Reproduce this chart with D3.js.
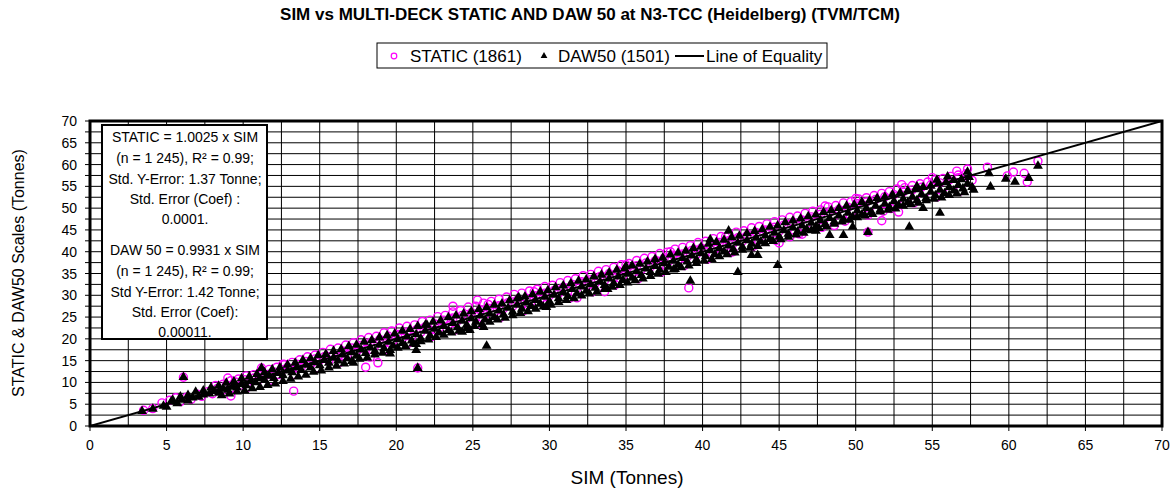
<!DOCTYPE html>
<html>
<head>
<meta charset="utf-8">
<script src="https://cdn.jsdelivr.net/npm/d3@7"></script>
<style>
  body { margin: 0; background: #fff; }
  text { font-family: Arial, "Liberation Sans", sans-serif; }
</style>
</head>
<body>
<svg id="chart" width="1176" height="495"></svg>
<script>
// axis ticks
var xTicks = [0, 5, 10, 15, 20, 25, 30, 35, 40, 45, 50, 55, 60, 65, 70];
var yTicks = [0, 5, 10, 15, 20, 25, 30, 35, 40, 45, 50, 55, 60, 65, 70];
var gridStep = 2.5;

// STATIC scale vs SIM (magenta circles)
var staticBand = [
	[5.2,5.9],[5.6,6.5],[5.9,5.6],[6.3,6.6],[6.6,6.1],[7.0,7.3],[7.3,6.8],[7.7,7.9],[8.0,7.4],[8.3,8.6],[8.6,8.1],[8.9,9.4],[9.2,8.7],[9.5,10.1],[9.8,9.3],[10.1,10.6],[10.4,9.9],[10.7,11.0],[11.0,10.6],[11.4,11.5],[11.7,11.9],[12.0,12.4],[12.3,11.8],[12.6,12.9],[12.9,13.5],[13.2,13.0],[13.5,14.2],[13.8,13.6],[14.1,14.8],[14.4,14.1],[14.7,15.4],[15.0,15.1],[15.3,15.9],[15.6,15.0],[15.9,16.4],[16.2,15.8],[16.5,17.2],[16.8,16.3],[17.1,17.9],[17.4,17.0],[17.7,18.5],[18.0,17.6],[18.3,19.2],[18.6,18.4],[18.9,19.8],[19.2,18.9],[19.5,20.6],[19.8,19.6],[20.1,21.0],[20.4,20.2],[20.7,21.6],[21.0,20.4],[21.3,22.1],[21.6,21.5],[21.9,22.8],[22.2,22.0],[22.5,23.4],[22.8,22.5],[23.1,24.3],[23.4,23.0],[23.7,24.8],[24.0,24.1],[24.3,25.4],[24.6,24.7],[24.9,26.0],[25.2,25.1],[25.5,26.7],[25.8,25.6],[26.1,27.0],[26.4,26.2],[26.7,27.6],[27.0,26.9],[27.3,28.3],[27.6,27.5],[27.9,28.9],[28.2,28.0],[28.5,29.3],[28.8,28.6],[29.1,29.9],[29.4,29.2],[29.7,30.5],[30.0,29.9],[30.3,31.1],[30.6,30.4],[30.9,31.8],[31.2,30.9],[31.5,32.5],[31.8,31.7],[32.1,33.1],[32.4,32.2],[32.7,33.6],[33.0,32.8],[33.3,34.3],[33.6,33.4],[33.9,35.0],[34.2,34.0],[34.5,35.6],[34.8,34.5],[35.1,36.3],[35.4,35.2],[35.7,36.8],[36.0,35.9],[36.3,37.4],[36.6,36.5],[36.9,37.9],[37.2,37.0],[37.5,38.6],[37.8,37.8],[38.1,39.2],[38.4,38.1],[38.7,39.5],[39.0,38.8],[39.3,40.3],[39.6,39.4],[39.9,40.8],[40.2,40.0],[40.5,41.5],[40.8,40.6],[41.1,42.1],[41.4,41.2],[41.7,42.5],[42.0,41.9],[42.3,43.2],[42.6,42.4],[42.9,43.7],[43.2,43.0],[43.5,44.4],[43.8,43.6],[44.1,45.0],[44.4,44.2],[44.7,45.6],[45.0,44.7],[45.3,46.1],[45.6,45.4],[45.9,46.8],[46.2,46.0],[46.5,47.3],[46.8,46.5],[47.1,48.0],[47.4,47.0],[47.7,48.6],[48.0,47.7],[48.3,49.1],[48.6,48.2],[48.9,49.7],[49.2,48.8],[49.5,50.2],[49.8,49.4],[50.1,51.0],[50.4,49.9],[50.7,51.4],[51.0,50.5],[51.3,52.0],[51.6,51.0],[51.9,52.6],[52.2,51.5],[52.5,53.1],[52.8,52.2],[53.1,53.7],[53.4,52.6],[53.7,54.2],[54.0,53.2],[54.3,54.8],[54.6,53.8],[54.9,55.3],[55.2,54.2],[55.5,55.8],[55.8,54.9],[56.1,56.4],[56.4,55.3],[56.7,57.0],[57.0,55.8],[57.3,57.5],[57.6,56.4]
];
var staticUpper = [
	[8.2,9.3],[8.7,9.6],[9.2,10.4],[9.7,10.8],[10.2,11.5],[10.7,11.8],[11.2,12.6],[11.7,13.0],[12.2,13.5],[12.7,14.1],[13.2,14.6],[13.7,15.2],[14.2,15.9],[14.7,16.3],[15.2,16.9],[15.7,17.6],[16.2,17.9],[16.7,18.6],[17.2,19.1],[17.7,19.8],[18.2,20.3],[18.7,20.6],[19.2,21.4],[19.7,21.8],[20.2,22.5],[20.7,22.9],[21.2,23.2],[21.7,24.0],[22.2,24.3],[22.7,25.1],[23.2,25.4],[23.7,26.2],[24.2,26.5],[24.7,27.3],[25.2,27.5],[25.7,28.2],[26.2,28.6],[26.7,29.1],[27.2,29.6],[27.7,30.2],[28.2,30.5],[28.7,31.0],[29.2,31.4],[29.7,32.0],[30.2,32.3],[30.7,32.9],[31.2,33.4],[31.7,33.8],[32.2,34.5],[32.7,34.8],[33.2,35.5],[33.7,35.9],[34.2,36.4],[34.7,37.0],[35.2,37.3],[35.7,38.0],[36.2,38.5],[36.7,38.9],[37.2,39.6],[37.7,39.9],[38.2,40.6],[38.7,41.0],[39.2,41.4],[39.7,42.1],[40.2,42.4],[40.7,43.0],[41.2,43.5],[41.7,43.9],[42.2,44.5],[42.7,44.8],[43.2,45.5],[43.7,45.8],[44.2,46.4],[44.7,46.9],[45.2,47.3],[45.7,47.9],[46.2,48.2],[46.7,48.8],[47.2,49.3],[47.7,49.6],[48.2,50.3],[48.7,50.6],[49.2,51.2],[49.7,51.5],[50.2,52.1],[50.7,52.4],[51.2,52.9],[51.7,53.4],[52.2,53.8],[52.7,54.4],[53.2,54.7],[53.7,55.2],[54.2,55.6],[54.7,56.0],[55.2,56.5],[55.7,56.8],[56.2,57.3],[56.7,57.6],[57.2,57.9]
];
var staticLower = [
	[10.3,8.9],[11.8,10.5],[13.3,11.8],[14.8,13.2],[16.3,14.6],[17.8,16.1],[19.3,17.6],[20.8,19.0],[22.3,20.5],[23.8,22.0],[25.3,23.4],[26.8,24.9],[28.3,26.4],[29.8,27.9],[31.3,29.3],[32.8,30.8],[34.3,32.4],[35.8,33.8],[37.3,35.3],[38.8,36.8],[40.3,38.3],[41.8,39.8],[43.3,41.2],[44.8,42.6],[46.3,44.1],[47.8,45.6],[49.3,47.0],[50.8,48.4],[52.3,49.9],[53.8,51.2],[55.3,52.6],[56.8,53.9]
];
var staticOutliers = [
	[3.5,3.6],[4.1,4.0],[4.7,5.3],[6.1,11.2],[9.0,11.0],[9.2,6.9],[13.3,8.0],[11.2,13.3],[12.6,14.2],
	[18.0,13.5],[18.8,14.5],[18.3,15.8],[21.4,13.3],[23.7,27.5],[25.3,28.9],[26.0,27.9],[29.0,30.8],
	[31.8,29.4],[33.6,30.8],[35.0,37.0],[37.9,40.0],[39.1,31.7],[41.5,43.4],[42.0,40.0],[45.0,42.0],
	[45.7,43.4],[46.5,44.0],[48.6,46.0],[48.0,50.5],[50.0,52.2],[50.8,44.5],[51.7,47.1],[51.8,49.3],
	[52.8,49.1],[53.0,55.4],[55.0,57.0],[56.6,58.5],[57.3,59.0],[58.6,59.4],[59.9,57.4],[60.3,58.3],
	[61.0,58.0],[61.2,56.0],[61.9,60.8]
];

// DAW50 scale vs SIM (black triangles)
var dawBand = [
	[3.4,3.4],[4.1,3.9],[4.8,4.6],[5.0,4.4],[5.3,5.6],[5.7,5.2],[6.0,6.0],[6.4,5.8],[6.7,6.5],[7.1,6.7],[7.4,7.2],[7.8,7.4],[8.1,8.0],[8.4,7.6],[8.7,8.5],[9.0,8.3],[9.3,9.0],[9.6,8.8],[9.9,9.6],[10.2,9.3],[10.5,10.3],[10.8,10.0],[11.1,10.9],[11.4,10.5],[11.7,11.5],[12.0,11.0],[12.3,12.1],[12.6,11.6],[12.9,12.7],[13.2,12.3],[13.5,13.4],[13.8,12.8],[14.1,14.0],[14.4,13.4],[14.7,14.6],[15.0,13.9],[15.3,15.1],[15.6,14.5],[15.9,15.7],[16.2,15.0],[16.5,16.4],[16.8,15.5],[17.1,16.9],[17.4,16.1],[17.7,17.5],[18.0,16.7],[18.3,18.0],[18.6,17.2],[18.9,18.6],[19.2,17.8],[19.5,19.3],[19.8,18.4],[20.1,19.9],[20.4,19.0],[20.7,20.5],[21.0,19.6],[21.3,21.0],[21.6,20.1],[21.9,21.8],[22.2,20.8],[22.5,22.3],[22.8,21.4],[23.1,22.9],[23.4,22.0],[23.7,23.6],[24.0,22.6],[24.3,24.1],[24.6,23.2],[24.9,24.7],[25.2,23.9],[25.5,25.3],[25.8,24.4],[26.1,25.8],[26.4,25.0],[26.7,26.5],[27.0,25.6],[27.3,27.1],[27.6,26.2],[27.9,27.8],[28.2,26.9],[28.5,28.3],[28.8,27.5],[29.1,28.9],[29.4,28.1],[29.7,29.6],[30.0,28.6],[30.3,30.1],[30.6,29.3],[30.9,30.7],[31.2,29.8],[31.5,31.4],[31.8,30.4],[32.1,32.0],[32.4,31.0],[32.7,32.5],[33.0,31.7],[33.3,33.1],[33.6,32.3],[33.9,33.8],[34.2,32.8],[34.5,34.3],[34.8,33.5],[35.1,34.9],[35.4,34.0],[35.7,35.5],[36.0,34.6],[36.3,36.1],[36.6,35.3],[36.9,36.7],[37.2,35.8],[37.5,37.3],[37.8,36.5],[38.1,37.9],[38.4,37.0],[38.7,38.5],[39.0,37.7],[39.3,39.1],[39.6,38.2],[39.9,39.6],[40.2,38.9],[40.5,40.3],[40.8,39.4],[41.1,40.8],[41.4,40.0],[41.7,41.4],[42.0,40.6],[42.3,42.0],[42.6,41.1],[42.9,42.6],[43.2,41.8],[43.5,43.2],[43.8,42.3],[44.1,43.7],[44.4,42.9],[44.7,44.3],[45.0,43.4],[45.3,44.9],[45.6,44.1],[45.9,45.5],[46.2,44.6],[46.5,46.0],[46.8,45.2],[47.1,46.6],[47.4,45.8],[47.7,47.2],[48.0,46.3],[48.3,47.7],[48.6,46.9],[48.9,48.3],[49.2,47.4],[49.5,48.9],[49.8,48.0],[50.1,49.4],[50.4,48.5],[50.7,50.0],[51.0,49.1],[51.3,50.5],[51.6,49.6],[51.9,51.0],[52.2,50.2],[52.5,51.6],[52.8,50.7],[53.1,52.1],[53.4,51.3],[53.7,52.6],[54.0,51.8],[54.3,53.2],[54.6,52.3],[54.9,53.7],[55.2,52.9],[55.5,54.2],[55.8,53.4],[56.1,54.8],[56.4,54.0],[56.7,55.3],[57.0,54.5],[57.3,55.6],[57.6,54.8]
];
var dawUpper = [
	[5.4,6.0],[5.9,6.7],[6.4,7.1],[6.9,7.8],[7.4,8.1],[7.9,8.8],[8.4,9.2],[8.9,9.9],[9.4,10.2],[9.9,10.9],[10.4,11.3],[10.9,11.9],[11.4,12.3],[11.9,13.0],[12.4,13.4],[12.9,14.0],[13.4,14.5],[13.9,15.1],[14.4,15.5],[14.9,16.2],[15.4,16.5],[15.9,17.2],[16.4,17.6],[16.9,18.3],[17.4,18.6],[17.9,19.3],[18.4,19.7],[18.9,20.3],[19.4,20.8],[19.9,21.2],[20.4,21.8],[20.9,22.2],[21.4,22.9],[21.9,23.2],[22.4,23.9],[22.9,24.2],[23.4,24.9],[23.9,25.3],[24.4,25.8],[24.9,26.3],[25.4,26.8],[25.9,27.2],[26.4,27.8],[26.9,28.1],[27.4,28.8],[27.9,29.2],[28.4,29.7],[28.9,30.2],[29.4,30.8],[29.9,31.1],[30.4,31.8],[30.9,32.2],[31.4,32.7],[31.9,33.3],[32.4,33.6],[32.9,34.3],[33.4,34.7],[33.9,35.2],[34.4,35.8],[34.9,36.1],[35.4,36.8],[35.9,37.2],[36.4,37.7],[36.9,38.3],[37.4,38.6],[37.9,39.3],[38.4,39.7],[38.9,40.2],[39.4,40.8],[39.9,41.1],[40.4,41.8],[40.9,42.2],[41.4,42.7],[41.9,43.3],[42.4,43.6],[42.9,44.2],[43.4,44.7],[43.9,45.1],[44.4,45.7],[44.9,46.0],[45.4,46.7],[45.9,47.1],[46.4,47.6],[46.9,48.1],[47.4,48.5],[47.9,49.1],[48.4,49.5],[48.9,50.0],[49.4,50.5],[49.9,50.8],[50.4,51.4],[50.9,51.7],[51.4,52.3],[51.9,52.6],[52.4,53.1],[52.9,53.5],[53.4,54.0],[53.9,54.3],[54.4,54.8],[54.9,55.1],[55.4,55.6],[55.9,55.9],[56.4,56.4],[56.9,56.6],[57.4,57.1]
];
var dawLow = [
	[8.6,7.0],[9.1,7.4],[9.6,7.9],[10.1,8.1],[10.6,8.6],[11.1,8.9],[11.6,9.4],[12.1,9.7],[12.6,10.3],[13.1,10.8],[13.6,11.3],[14.1,11.7],[14.6,12.4],[15.1,12.7],[15.6,13.4],[16.1,13.8],[16.6,14.3],[17.1,14.9],[17.6,15.4],[18.1,15.7],[18.6,16.4],[19.1,16.8],[19.6,17.4],[20.1,17.9],[20.6,18.3],[21.1,18.9],[21.6,19.4],[22.1,19.8],[22.6,20.4],[23.1,20.9],[23.6,21.4],[24.1,21.8],[24.6,22.4],[25.1,22.9],[25.6,23.3],[26.1,23.9],[26.6,24.4],[27.1,24.8],[27.6,25.4],[28.1,25.9],[28.6,26.3],[29.1,26.9],[29.6,27.4],[30.1,27.8],[30.6,28.4],[31.1,28.9],[31.6,29.3],[32.1,29.9],[32.6,30.4],[33.1,30.8],[33.6,31.4],[34.1,31.9],[34.6,32.3],[35.1,32.9],[35.6,33.4],[36.1,33.8],[36.6,34.4],[37.1,34.9],[37.6,35.3],[38.1,35.9],[38.6,36.4],[39.1,36.8],[39.6,37.4],[40.1,37.9],[40.6,38.3],[41.1,38.9],[41.6,39.4],[42.1,39.8],[42.6,40.4],[43.1,40.9],[43.6,41.3],[44.1,41.9],[44.6,42.4],[45.1,42.8],[45.6,43.4],[46.1,43.9],[46.6,44.3],[47.1,44.9],[47.6,45.4],[48.1,45.8],[48.6,46.4],[49.1,46.9],[49.6,47.3],[50.1,47.9],[50.6,48.3],[51.1,48.6],[51.6,49.2],[52.1,49.6],[52.6,49.9],[53.1,50.5],[53.6,50.9],[54.1,51.2],[54.6,51.8],[55.1,52.1],[55.6,52.4],[56.1,53.0],[56.6,53.3],[57.1,53.6]
];
var dawOutliers = [
	[6.1,11.2],[11.2,13.3],[17.2,14.5],[19.6,16.6],[21.4,13.3],[21.3,17.4],[21.3,18.8],[22.0,23.2],[24.3,21.6],
	[24.8,22.0],[25.7,22.7],[25.9,18.4],[28.0,29.5],[29.8,27.3],[33.8,31.4],[35.0,36.6],[38.2,36.0],
	[39.2,33.3],[40.5,42.8],[41.7,44.8],[42.3,35.3],[43.2,39.2],[43.6,39.2],[44.9,36.9],[47.4,44.8],
	[48.3,43.8],[49.2,43.8],[49.8,45.7],[50.8,44.5],[53.5,45.7],[54.4,50.0],[55.5,48.9],[54.0,55.0],
	[55.3,56.5],[56.0,57.2],[57.3,58.3],[57.7,54.2],[58.7,58.0],[58.8,54.9],[59.8,56.7],[60.4,56.0],
	[61.3,56.9],[61.9,59.7]
];

var staticPoints = staticBand.concat(staticUpper, staticLower, staticOutliers);
var dawPoints = dawBand.concat(dawUpper, dawLow, dawOutliers);

var svg = d3.select("#chart");
var plotLeft = 90, plotRight = 1162, plotTop = 121, plotBottom = 426;

var x = d3.scaleLinear().domain([0, 70]).range([plotLeft, plotRight]);
var y = d3.scaleLinear().domain([0, 70]).range([plotBottom, plotTop]);

// title
svg.append("text")
	.attr("x", 590).attr("y", 20)
	.attr("text-anchor", "middle")
	.style("font-size", "17px").style("font-weight", "bold")
	.text("SIM vs MULTI-DECK STATIC AND DAW 50 at N3-TCC (Heidelberg) (TVM/TCM)");

// grid every 2.5
var gridVals = d3.range(0, 70.01, gridStep);
svg.append("g").selectAll("line")
	.data(gridVals)
	.enter()
	.append("line")
	.attr("x1", function (d) { return x(d); })
	.attr("x2", function (d) { return x(d); })
	.attr("y1", plotTop).attr("y2", plotBottom)
	.attr("stroke", "#000").attr("stroke-width", 1);
svg.append("g").selectAll("line")
	.data(gridVals)
	.enter()
	.append("line")
	.attr("x1", plotLeft - 5).attr("x2", plotRight)
	.attr("y1", function (d) { return y(d); })
	.attr("y2", function (d) { return y(d); })
	.attr("stroke", "#000").attr("stroke-width", 1);

// x ticks below axis
svg.append("g").selectAll("line")
	.data(xTicks)
	.enter()
	.append("line")
	.attr("x1", function (d) { return x(d); })
	.attr("x2", function (d) { return x(d); })
	.attr("y1", plotBottom).attr("y2", plotBottom + 5)
	.attr("stroke", "#000");

svg.append("g").selectAll("text")
	.data(xTicks)
	.enter()
	.append("text")
	.attr("x", function (d) { return x(d); })
	.attr("y", plotBottom + 24)
	.attr("text-anchor", "middle")
	.style("font-size", "14px")
	.text(function (d) { return d; });

svg.append("g").selectAll("text")
	.data(yTicks)
	.enter()
	.append("text")
	.attr("x", plotLeft - 13)
	.attr("y", function (d) { return y(d) + 5; })
	.attr("text-anchor", "end")
	.style("font-size", "14px")
	.text(function (d) { return d; });

// points
svg.append("clipPath").attr("id", "clip")
	.append("rect").attr("x", plotLeft).attr("y", plotTop)
	.attr("width", plotRight - plotLeft).attr("height", plotBottom - plotTop);

var plot = svg.append("g").attr("clip-path", "url(#clip)");

plot.selectAll("circle")
	.data(staticPoints)
	.enter()
	.append("circle")
	.attr("cx", function (d) { return x(d[0]); })
	.attr("cy", function (d) { return y(d[1]); })
	.attr("r", 4)
	.attr("fill", "none")
	.attr("stroke", "#ff00ff")
	.attr("stroke-width", 1.4);

var tri = d3.symbol().type(d3.symbolTriangle).size(42);
plot.selectAll("path")
	.data(dawPoints)
	.enter()
	.append("path")
	.attr("d", tri)
	.attr("transform", function (d) { return "translate(" + x(d[0]) + "," + y(d[1]) + ")"; })
	.attr("fill", "#000");

// line of equality
plot.append("line")
	.attr("x1", x(0)).attr("y1", y(0))
	.attr("x2", x(70)).attr("y2", y(70))
	.attr("stroke", "#000").attr("stroke-width", 2);

// plot frame
svg.append("rect")
	.attr("x", plotLeft).attr("y", plotTop)
	.attr("width", plotRight - plotLeft).attr("height", plotBottom - plotTop)
	.attr("fill", "none").attr("stroke", "#000").attr("stroke-width", 3);

// text box
var box = svg.append("g");
box.append("rect")
	.attr("x", 102).attr("y", 125)
	.attr("width", 165).attr("height", 214)
	.attr("fill", "#fff").attr("stroke", "#000").attr("stroke-width", 2);

var boxLines = [
	["STATIC = 1.0025 x SIM", 142],
	["(n = 1 245), R\u00b2 = 0.99;", 163],
	["Std. Y-Error: 1.37 Tonne;", 184],
	["Std. Error (Coef) :", 204],
	["0.0001.", 224],
	["DAW 50 = 0.9931 x SIM", 255],
	["(n = 1 245),  R\u00b2 = 0.99;", 276],
	["Std Y-Error: 1.42 Tonne;", 297],
	["Std. Error (Coef):", 317],
	["0.00011.", 337]
];
box.selectAll("text")
	.data(boxLines)
	.enter()
	.append("text")
	.attr("x", 185)
	.attr("y", function (d) { return d[1]; })
	.attr("text-anchor", "middle")
	.style("font-size", "14px")
	.text(function (d) { return d[0]; });

// axis labels
svg.append("text")
	.attr("x", 627).attr("y", 484)
	.attr("text-anchor", "middle")
	.style("font-size", "19px")
	.text("SIM (Tonnes)");

svg.append("text")
	.attr("transform", "translate(24,273) rotate(-90)")
	.attr("text-anchor", "middle")
	.style("font-size", "16px")
	.text("STATIC & DAW50 Scales (Tonnes)");

// legend
var lg = svg.append("g");
lg.append("rect")
	.attr("x", 377).attr("y", 43)
	.attr("width", 450).attr("height", 25)
	.attr("fill", "#fff").attr("stroke", "#000").attr("stroke-width", 1);
lg.append("circle")
	.attr("cx", 394).attr("cy", 56).attr("r", 2.8)
	.attr("fill", "none").attr("stroke", "#ff00ff").attr("stroke-width", 1.2);
lg.append("text").attr("x", 410).attr("y", 62)
	.style("font-size", "17px").text("STATIC (1861)");
lg.append("path")
	.attr("d", d3.symbol().type(d3.symbolTriangle).size(20))
	.attr("transform", "translate(544,56)");
lg.append("text").attr("x", 558).attr("y", 62)
	.style("font-size", "17px").text("DAW50 (1501)");
lg.append("line")
	.attr("x1", 675).attr("x2", 704).attr("y1", 56).attr("y2", 56)
	.attr("stroke", "#000").attr("stroke-width", 2);
lg.append("text").attr("x", 706).attr("y", 62)
	.style("font-size", "17px").text("Line of Equality");
</script>
</body>
</html>
